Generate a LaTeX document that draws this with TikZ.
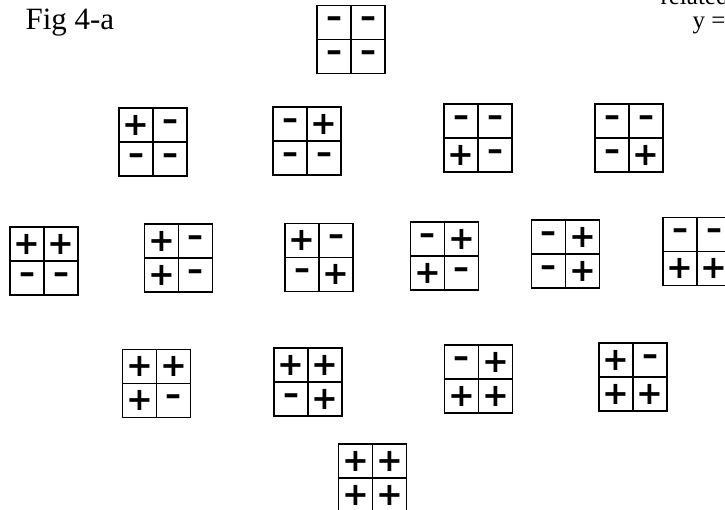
\documentclass[tikz,border=0pt]{standalone}
\usepackage{fontspec}
\setmainfont{Liberation Serif}
\newfontfamily\signfont{DejaVu Sans}
\usetikzlibrary{matrix}

\begin{document}
\begin{tikzpicture}[x=1pt, y=1pt,
    % One square of a sign pattern, with a bold plus or minus in it.
    cell/.style={rectangle, draw, line width=1.5pt, inner sep=0pt,
                 anchor=center, minimum width=34pt, minimum height=34pt,
                 font=\signfont\bfseries\fontsize{32}{32}\selectfont},
    % 2x2 sign pattern: neighbouring cells share their borders.
    signgrid/.style={matrix of nodes, nodes={cell}, inner sep=0pt,
                     column sep=-1.5pt, row sep=-1.5pt},
    % Figure caption and the cut-off text at the page corner.
    caption/.style={anchor=base west, font=\fontsize{31}{31}\selectfont},
    note/.style={anchor=base west, font=\fontsize{25}{25}\selectfont}
]
    \clip (0,0) rectangle (725,509);

    % === Texts ===
    \node[caption] (fig) at (22, 479) {Fig 4-a};
    \node[note] (rel) at (657, 504) {related};
    \node[note] (yeq) at (689, 480) {y =};

    % === No plus sign ===
    \matrix[signgrid] (mmmm) at (351, 469.5) {– & – \\ – & – \\};

    % === One plus sign ===
    \matrix[signgrid] (pmmm) at (153, 367) {+ & – \\ – & – \\};
    \matrix[signgrid] (mpmm) at (307, 368) {– & + \\ – & – \\};
    \matrix[signgrid] (mmpm) at (478, 371) {– & – \\ + & – \\};
    \matrix[signgrid] (mmmp) at (629, 371) {– & – \\ – & + \\};

    % === Two plus signs ===
    \matrix[signgrid] (ppmm) at (44, 248)    {+ & + \\ – & – \\};
    \matrix[signgrid] (pmpm) at (178.5, 251) {+ & – \\ + & – \\};
    \matrix[signgrid] (pmmp) at (319, 251.5) {+ & – \\ – & + \\};
    \matrix[signgrid] (mppm) at (444.5, 253) {– & + \\ + & – \\};
    \matrix[signgrid] (mpmp) at (565.5, 255) {– & + \\ – & + \\};
    \matrix[signgrid] (mmpp) at (697, 257.5) {– & – \\ + & + \\};

    % === Three plus signs ===
    \matrix[signgrid] (pppm) at (156.5, 125.5) {+ & + \\ + & – \\};
    \matrix[signgrid] (ppmp) at (308, 127)     {+ & + \\ – & + \\};
    \matrix[signgrid] (mppp) at (478.5, 130)   {– & + \\ + & + \\};
    \matrix[signgrid] (pmpp) at (633, 132)     {+ & – \\ + & + \\};

    % === Four plus signs ===
    \matrix[signgrid] (pppp) at (372.5, 31) {+ & + \\ + & + \\};

\end{tikzpicture}
\end{document}
